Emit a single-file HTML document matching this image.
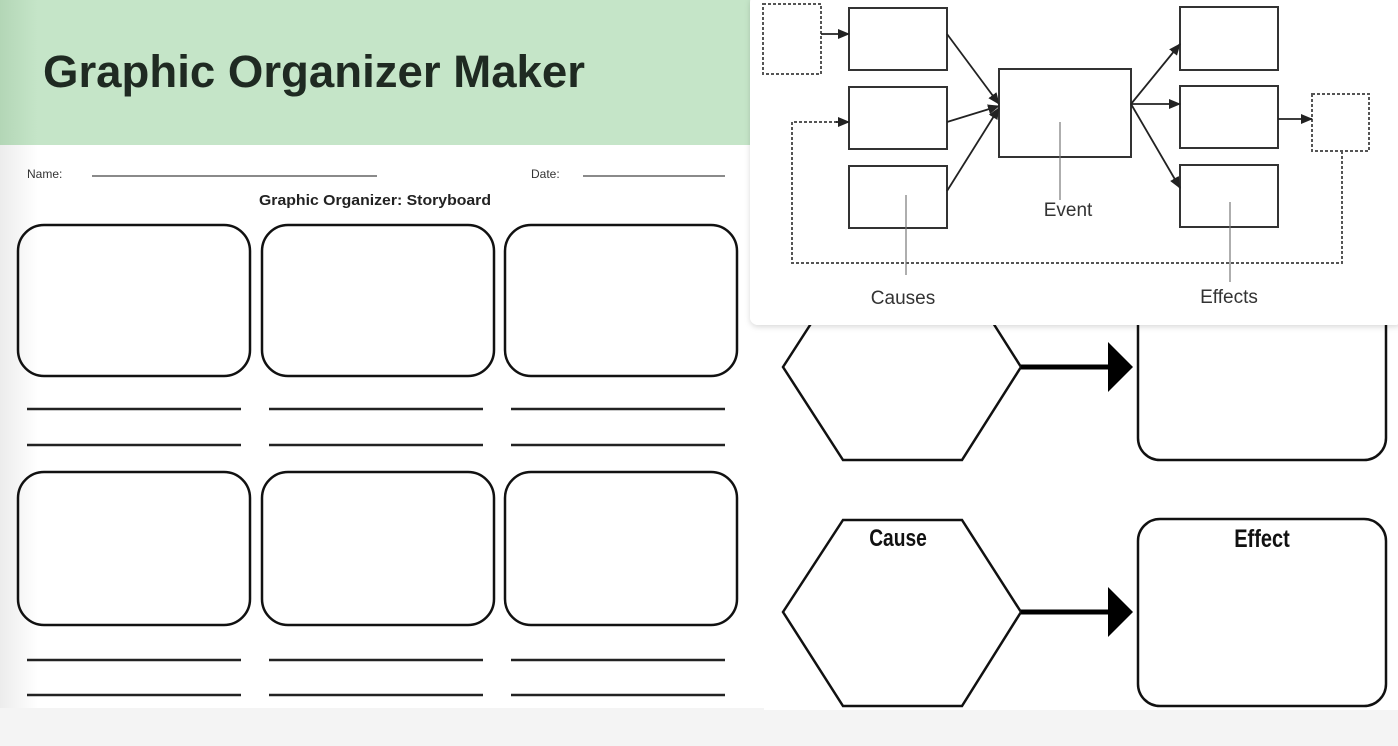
<!DOCTYPE html>
<html><head><meta charset="utf-8"><style>
html,body{margin:0;padding:0;width:1398px;height:746px;overflow:hidden;background:#f4f4f4;font-family:"Liberation Sans",sans-serif}
</style></head><body>
<svg width="1398" height="746" viewBox="0 0 1398 746" xmlns="http://www.w3.org/2000/svg">
<defs>
<linearGradient id="lg" x1="0" x2="1"><stop offset="0" stop-color="#ececec"/><stop offset="0.05" stop-color="#fff"/></linearGradient>
<linearGradient id="hg" x1="0" x2="1"><stop offset="0" stop-color="#b3d6b6"/><stop offset="0.05" stop-color="#c5e5c8"/></linearGradient>
<marker id="a" markerWidth="12" markerHeight="10" refX="11" refY="5" orient="auto" markerUnits="userSpaceOnUse"><path d="M0,0 L12,5 L0,10z" fill="#222"/></marker>
<filter id="sh"><feDropShadow dx="0" dy="2" stdDeviation="3" flood-color="#000" flood-opacity="0.15"/></filter>
</defs>
<rect x="0" y="0" width="1398" height="746" fill="#f4f4f4"/>
<rect x="0" y="145" width="764" height="563" fill="url(#lg)"/>
<rect x="0" y="0" width="750" height="145" fill="url(#hg)"/>
<text x="43" y="87" font-size="45" font-weight="bold" fill="#1f2a22" textLength="542" lengthAdjust="spacingAndGlyphs">Graphic Organizer Maker</text>
<text x="27" y="178" font-size="12" fill="#333">Name:</text>
<line x1="92" y1="176" x2="377" y2="176" stroke="#444" stroke-width="1.2"/>
<text x="531" y="178" font-size="12" fill="#333">Date:</text>
<line x1="583" y1="176" x2="725" y2="176" stroke="#444" stroke-width="1.2"/>
<text x="259" y="205" font-size="15" font-weight="bold" fill="#222" textLength="232" lengthAdjust="spacingAndGlyphs">Graphic Organizer: Storyboard</text>
<g fill="none" stroke="#111" stroke-width="2.5">
<rect x="18" y="225" width="232" height="151" rx="26"/>
<rect x="262" y="225" width="232" height="151" rx="26"/>
<rect x="505" y="225" width="232" height="151" rx="26"/>
<rect x="18" y="472" width="232" height="153" rx="26"/>
<rect x="262" y="472" width="232" height="153" rx="26"/>
<rect x="505" y="472" width="232" height="153" rx="26"/>
</g>
<g stroke="#222" stroke-width="2.5">
<line x1="27" y1="409" x2="241" y2="409"/><line x1="269" y1="409" x2="483" y2="409"/><line x1="511" y1="409" x2="725" y2="409"/>
<line x1="27" y1="445" x2="241" y2="445"/><line x1="269" y1="445" x2="483" y2="445"/><line x1="511" y1="445" x2="725" y2="445"/>
<line x1="27" y1="660" x2="241" y2="660"/><line x1="269" y1="660" x2="483" y2="660"/><line x1="511" y1="660" x2="725" y2="660"/>
<line x1="27" y1="695" x2="241" y2="695"/><line x1="269" y1="695" x2="483" y2="695"/><line x1="511" y1="695" x2="725" y2="695"/>
</g>
<rect x="764" y="320" width="634" height="390" fill="#fff"/>
<g fill="none" stroke="#111" stroke-width="2.5">
<polygon points="783,367 843,274 962,274 1021,367 962,460 843,460"/>
<polygon points="783,612 843,520 962,520 1021,612 962,706 843,706"/>
<rect x="1138" y="260" width="248" height="200" rx="22"/>
<rect x="1138" y="519" width="248" height="187" rx="22"/>
</g>
<line x1="1021" y1="367" x2="1110" y2="367" stroke="#000" stroke-width="5"/>
<polygon points="1108,342 1133,367 1108,392" fill="#000"/>
<line x1="1021" y1="612" x2="1110" y2="612" stroke="#000" stroke-width="5"/>
<polygon points="1108,587 1133,612 1108,637" fill="#000"/>
<text x="898" y="546" font-size="24" font-weight="bold" fill="#111" text-anchor="middle" transform="translate(898 0) scale(0.8 1) translate(-898 0)">Cause</text>
<text x="1262" y="547" font-size="25" font-weight="bold" fill="#111" text-anchor="middle" transform="translate(1262 0) scale(0.8 1) translate(-1262 0)">Effect</text>
<rect x="750" y="-5" width="653" height="330" rx="8" fill="#fff" filter="url(#sh)"/>
<g fill="none" stroke="#555" stroke-width="2" stroke-dasharray="3,2">
<rect x="763" y="4" width="58" height="70"/>
<rect x="1312" y="94" width="57" height="57"/>
<polyline points="1342,151 1342,263 792,263 792,122 842,122"/>
</g>
<g fill="none" stroke="#333" stroke-width="2">
<rect x="849" y="8" width="98" height="62"/>
<rect x="849" y="87" width="98" height="62"/>
<rect x="849" y="166" width="98" height="62"/>
<rect x="999" y="69" width="132" height="88"/>
<rect x="1180" y="7" width="98" height="63"/>
<rect x="1180" y="86" width="98" height="62"/>
<rect x="1180" y="165" width="98" height="62"/>
</g>
<g stroke="#222" stroke-width="1.8" marker-end="url(#a)">
<line x1="821" y1="34" x2="849" y2="34"/>
<line x1="836" y1="122" x2="849" y2="122"/>
<line x1="947" y1="34" x2="999" y2="104"/>
<line x1="947" y1="122" x2="999" y2="106"/>
<line x1="947" y1="191" x2="999" y2="108"/>
<line x1="1131" y1="104" x2="1180" y2="44"/>
<line x1="1131" y1="104" x2="1180" y2="104"/>
<line x1="1131" y1="104" x2="1180" y2="188"/>
<line x1="1278" y1="119" x2="1312" y2="119"/>
</g>
<g stroke="#777" stroke-width="1.2">
<line x1="906" y1="195" x2="906" y2="275"/>
<line x1="1060" y1="122" x2="1060" y2="200"/>
<line x1="1230" y1="202" x2="1230" y2="282"/>
</g>
<g font-size="19" fill="#333" text-anchor="middle">
<text x="903" y="304">Causes</text>
<text x="1068" y="216">Event</text>
<text x="1229" y="303">Effects</text>
</g>
</svg>
</body></html>
